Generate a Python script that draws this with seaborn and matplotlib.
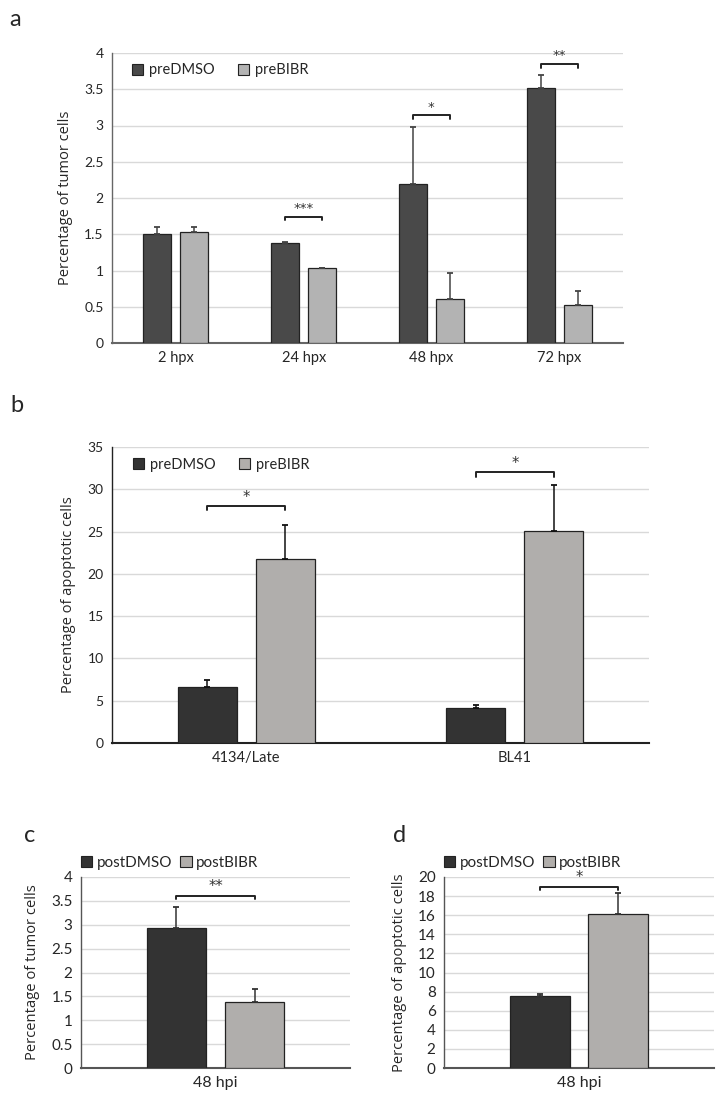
import pandas as pd
import seaborn as sns
import matplotlib.pyplot as plt
from matplotlib.patches import Patch

# panel a: tumor cells, pre-treatment
a_groups = ['2 hpx', '24 hpx', '48 hpx', '72 hpx']
a_series = ['preDMSO', 'preBIBR']
a_dmso = [1.50, 1.38, 2.19, 3.52]
a_dmso_err = [0.10, 0.01, 0.79, 0.17]
a_bibr = [1.53, 1.03, 0.61, 0.52]
a_bibr_err = [0.07, 0.01, 0.36, 0.20]
a_sig_idx = [1, 2, 3]
a_sig_y = [1.74, 3.14, 3.85]
a_sig_txt = ['***', '*', '**']

# panel b: apoptotic cells, pre-treatment
b_groups = ['4134/Late', 'BL41']
b_series = ['preDMSO', 'preBIBR']
b_dmso = [6.6, 4.1]
b_dmso_err = [0.9, 0.4]
b_bibr = [21.8, 25.1]
b_bibr_err = [4.0, 5.4]
b_sig_idx = [0, 1]
b_sig_y = [28.0, 32.0]
b_sig_txt = ['*', '*']

# panel c: tumor cells, post-treatment
c_groups = ['48 hpi']
c_series = ['postDMSO', 'postBIBR']
c_dmso = [2.93]
c_dmso_err = [0.44]
c_bibr = [1.38]
c_bibr_err = [0.27]
c_sig_y = [3.61]
c_sig_txt = ['**']

# panel d: apoptotic cells, post-treatment
d_groups = ['48 hpi']
d_series = ['postDMSO', 'postBIBR']
d_dmso = [7.5]
d_dmso_err = [0.3]
d_bibr = [16.1]
d_bibr_err = [2.2]
d_sig_y = [19.0]
d_sig_txt = ['*']

sns.set_style('white')
plt.rcParams['font.family'] = ['Lato', 'DejaVu Sans']

W, H = 726, 1093
fig = plt.figure(figsize=(W / 100, H / 100), dpi=100)


def rect(l, t, r, b):
    return [l / W, 1 - b / H, (r - l) / W, (b - t) / H]


def fmt_tick(v):
    return f'{v:g}'


def panel(ax, groups, series, v1, e1, v2, e2, colors, ymax, step, ylabel,
          sig_idx, sig_y, sig_txt, tick_len, star_size, spine_col, err_col,
          fs=10, ylab_fs=10.5):
    df = pd.DataFrame({
        'group': groups * 2,
        'treat': [series[0]] * len(groups) + [series[1]] * len(groups),
        'value': v1 + v2,
    })
    sns.barplot(data=df, x='group', y='value', hue='treat', palette=colors,
                width=0.58, gap=0.24, edgecolor='#222222', linewidth=0.9,
                errorbar=None, legend=False, ax=ax, zorder=3)
    centers = []
    for cont, errs in zip(ax.containers, [e1, e2]):
        xs = []
        for bar, e in zip(cont, errs):
            x = bar.get_x() + bar.get_width() / 2
            xs.append(x)
            ax.errorbar(x, bar.get_height(), yerr=[[0], [e]], fmt='none',
                        ecolor=err_col, elinewidth=1.1, capsize=2.5,
                        capthick=1.3, zorder=4)
        centers.append(xs)
    for i, y, t in zip(sig_idx, sig_y, sig_txt):
        x1, x2 = centers[0][i], centers[1][i]
        ax.plot([x1, x1, x2, x2], [y - tick_len, y, y, y - tick_len],
                color='#222222', lw=1.4, zorder=5, clip_on=False)
        ax.text((x1 + x2) / 2, y + tick_len * 0.4, t, ha='center',
                va='bottom', fontsize=star_size, color='#333333',
                family=['DejaVu Sans'])
    ax.set_xlim(-0.5, len(groups) - 0.5)
    ax.set_ylim(0, ymax)
    ticks = [i * step for i in range(int(round(ymax / step)) + 1)]
    ax.set_yticks(ticks)
    ax.set_yticklabels([fmt_tick(t) for t in ticks], fontsize=fs)
    ax.tick_params(axis='x', labelsize=fs + 0.5, length=0, pad=6)
    ax.tick_params(axis='y', length=0, pad=6)
    ax.yaxis.grid(True, color='#d9d9d9', lw=1.0, zorder=0)
    ax.set_axisbelow(True)
    ax.set_xlabel('')
    ax.set_ylabel(ylabel, fontsize=ylab_fs,
                  family=['Open Sans', 'DejaVu Sans'], labelpad=8)
    for s in ['top', 'right']:
        ax.spines[s].set_visible(False)
    ax.spines['left'].set_color(spine_col)
    ax.spines['bottom'].set_color(spine_col)
    ax.spines['left'].set_linewidth(1.0)
    ax.spines['bottom'].set_linewidth(1.5)
    handles = [Patch(facecolor=c, edgecolor='#222222', lw=0.8) for c in colors]
    return handles


col_a = ['#494949', '#b3b3b3']
col_b = ['#333333', '#b1aeab']

ax_a = fig.add_axes(rect(112, 53, 623, 343))
h = panel(ax_a, a_groups, a_series, a_dmso, a_dmso_err, a_bibr, a_bibr_err,
          col_a, 4, 0.5, 'Percentage of tumor cells', a_sig_idx, a_sig_y,
          a_sig_txt, 0.05, 9.5, '#666666', '#444444')
ax_a.legend(h, a_series, loc='center left', bbox_to_anchor=(0.04, 0.94),
            ncol=2, frameon=False, handlelength=0.75, handleheight=0.75,
            handletextpad=0.4, columnspacing=1.6, fontsize=10.5,
            borderpad=0, borderaxespad=0)

ax_b = fig.add_axes(rect(112, 447, 649, 743))
h = panel(ax_b, b_groups, b_series, b_dmso, b_dmso_err, b_bibr, b_bibr_err,
          col_b, 35, 5, 'Percentage of apoptotic cells', b_sig_idx, b_sig_y,
          b_sig_txt, 0.5, 10.5, '#222222', '#111111')
ax_b.legend(h, b_series, loc='center left', bbox_to_anchor=(0.04, 0.94),
            ncol=2, frameon=False, handlelength=0.75, handleheight=0.75,
            handletextpad=0.4, columnspacing=1.6, fontsize=10.5,
            borderpad=0, borderaxespad=0)

ax_c = fig.add_axes(rect(81, 877, 350, 1068))
h = panel(ax_c, c_groups, c_series, c_dmso, c_dmso_err, c_bibr, c_bibr_err,
          col_b, 4, 0.5, 'Percentage of tumor cells', [0], c_sig_y,
          c_sig_txt, 0.07, 10.5, '#555555', '#333333', fs=11, ylab_fs=10.6)
ax_c.legend(h, c_series, loc='center left', bbox_to_anchor=(0.0, 1.075),
            ncol=2, frameon=False, handlelength=0.75, handleheight=0.75,
            handletextpad=0.3, columnspacing=0.5, fontsize=11,
            borderpad=0, borderaxespad=0)

ax_d = fig.add_axes(rect(444, 877, 714, 1068))
h = panel(ax_d, d_groups, d_series, d_dmso, d_dmso_err, d_bibr, d_bibr_err,
          col_b, 20, 2, 'Percentage of apoptotic cells', [0], d_sig_y,
          d_sig_txt, 0.35, 10.5, '#555555', '#333333', fs=11, ylab_fs=10.6)
ax_d.legend(h, d_series, loc='center left', bbox_to_anchor=(0.0, 1.075),
            ncol=2, frameon=False, handlelength=0.75, handleheight=0.75,
            handletextpad=0.3, columnspacing=0.5, fontsize=11,
            borderpad=0, borderaxespad=0)

for lab, x, y in [('a', 15, 20), ('b', 17, 406), ('c', 30, 835), ('d', 400, 836)]:
    fig.text(x / W, 1 - y / H, lab, fontsize=17, ha='center', va='center')

fig.savefig('out.png', dpi=100)
